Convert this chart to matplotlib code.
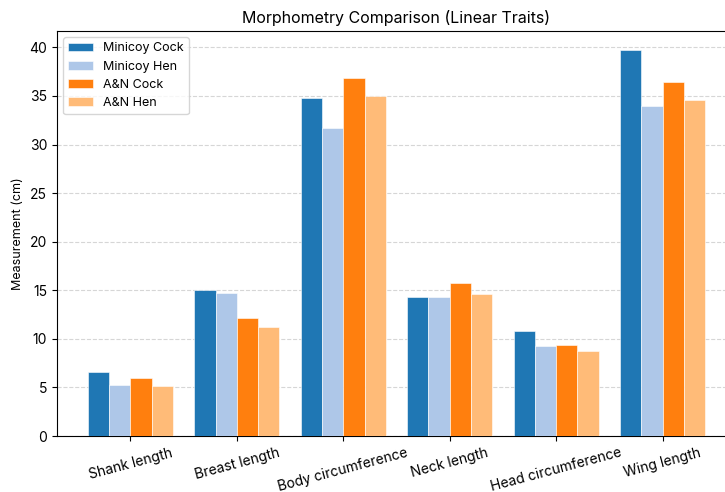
import matplotlib
matplotlib.use("Agg")
import matplotlib.pyplot as plt
import numpy as np

plt.rcParams['font.family'] = ['Inter', 'DejaVu Sans']

traits = ["Shank length", "Breast length", "Body circumference",
          "Neck length", "Head circumference", "Wing length"]
minicoy_cock = [6.6, 15.0, 34.8, 14.3, 10.8, 39.7]
minicoy_hen = [5.3, 14.7, 31.7, 14.3, 9.3, 34.0]
an_cock = [6.0, 12.1, 36.8, 15.7, 9.4, 36.4]
an_hen = [5.1, 11.2, 35.0, 14.6, 8.7, 34.6]

series = [("Minicoy Cock", minicoy_cock, "#1f77b4"),
          ("Minicoy Hen", minicoy_hen, "#aec7e8"),
          ("A&N Cock", an_cock, "#ff7f0e"),
          ("A&N Hen", an_hen, "#ffbb78")]

fig = plt.figure(figsize=(7.25, 4.92), dpi=100)
# the source image is cropped on the right, so the axes run past the edge
ax = fig.add_axes([57 / 725, 56 / 492, 679 / 725, 405 / 492])

x = np.arange(len(traits))
width = 0.2
for i, (name, vals, col) in enumerate(series):
    ax.bar(x + (i - 1.5) * width, vals, width, label=name, color=col,
           edgecolor="white", linewidth=0.4, zorder=3)

ax.set_xticks(x)
ax.set_xticklabels(traits, rotation=15, fontsize=10)
ax.set_ylabel("Measurement (cm)", fontsize=9)
ax.set_title("Morphometry Comparison (Linear Traits)", fontsize=11.5)
ax.tick_params(axis="y", labelsize=10)
ax.yaxis.grid(True, linestyle="--", color="#cccccc", alpha=0.8, zorder=0)
ax.legend(loc="upper left", fontsize=9)

fig.savefig("out.png", dpi=100)
